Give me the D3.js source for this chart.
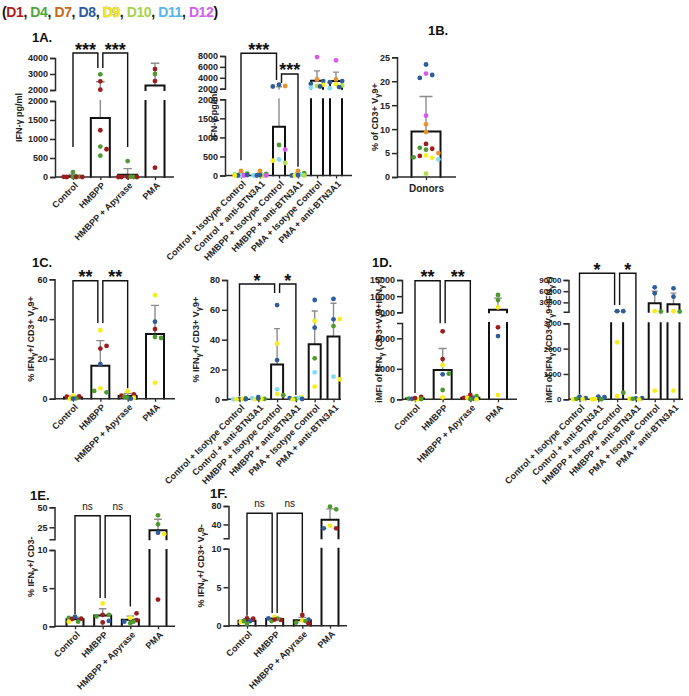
<!DOCTYPE html>
<html>
<head>
<meta charset="utf-8">
<script src="https://cdn.jsdelivr.net/npm/d3@7"></script>
<style>
  body { margin: 0; background: #fff; }
  svg text { font-family: "Liberation Sans", Arial, Helvetica, sans-serif; }
</style>
</head>
<body>
<svg id="fig" width="689" height="696"></svg>
<script>
// donors
const D1 = 0, D4 = 1, D7 = 2, D8 = 3, D9 = 4, D10 = 5, D11 = 6, D12 = 7;
const donorNames = ['D1', 'D4', 'D7', 'D8', 'D9', 'D10', 'D11', 'D12'];
const donorColors = ['#9e1c1c', '#4f9a30', '#e8922c', '#2f5d9c', '#f7ee1c', '#b2e04a', '#7fdcf4', '#dd55f0'];
const legendColors = ['#b01d1d', '#4fa63a', '#c8661e', '#2e5b9e', '#f3e81a', '#a6d44c', '#56b4ee', '#cf62ec'];

const cats4 = ['Control', 'HMBPP', 'HMBPP + Apyrase', 'PMA'];
const cats6 = ['Control + Isotype Control', 'Control + anti-BTN3A1', 'HMBPP + Isotype Control',
  'HMBPP + anti-BTN3A1', 'PMA + Isotype Control', 'PMA + anti-BTN3A1'];
const catsDonors = ['Donors'];

// [donor, value] per group
const ifnPgml4 = [
  [[D4, 0], [D4, 130], [D4, 10], [D1, 0], [D1, 0], [D1, 5], [D1, 0]],
  [[D4, 2980], [D1, 2540], [D1, 2020], [D1, 1230], [D4, 800], [D1, 730], [D4, 560]],
  [[D4, 420], [D1, 0], [D4, 0], [D1, 0], [D1, 0], [D1, 0], [D4, 10]],
  [[D1, 3310], [D4, 3000], [D1, 2560], [D1, 245]]
];
const ifnPgml6 = [
  [[D7, 120], [D4, 50], [D10, 30], [D11, 0], [D12, 0], [D8, 0], [D8, 10], [D9, 0]],
  [[D7, 120], [D4, 40], [D11, 0], [D9, 0], [D10, 0], [D8, 0], [D12, 0], [D8, 10]],
  [[D8, 2730], [D7, 2500], [D8, 2400], [D4, 800], [D12, 680], [D11, 420], [D10, 330], [D9, 390]],
  [[D7, 120], [D4, 60], [D8, 0], [D12, 0], [D11, 20], [D9, 0], [D10, 0], [D8, 10]],
  [[D12, 7800], [D7, 3700], [D8, 3400], [D8, 2900], [D10, 2500], [D9, 2700], [D11, 2200], [D8, 2400]],
  [[D12, 7200], [D7, 3700], [D8, 3400], [D8, 3200], [D9, 2800], [D10, 2600], [D11, 2100], [D8, 2300]]
];
const vg9Freq = [
  [[D8, 23.5], [D12, 21.6], [D8, 21.3], [D8, 20.7], [D12, 12.8], [D7, 11], [D7, 9.4], [D1, 6.9], [D4, 5.7],
   [D1, 5.9], [D4, 6.1], [D9, 4.5], [D9, 4.0], [D1, 4.4], [D7, 5.0], [D4, 4.1], [D11, 3.7], [D10, 0.7]]
];
const pctIfn4 = [
  [[D9, 1.4], [D1, 1.2], [D1, 1.0], [D4, 0.2], [D9, 0], [D8, 0]],
  [[D9, 34.4], [D1, 25.2], [D1, 26.5], [D8, 17.4], [D9, 5.2], [D4, 3.2], [D4, 3.9]],
  [[D9, 3.8], [D1, 2.2], [D1, 1.5], [D4, 0.5], [D9, 0.5], [D8, 0], [D4, 1.0]],
  [[D9, 52], [D8, 38.7], [D1, 35], [D4, 31], [D4, 30.5], [D9, 8]]
];
const pctIfn6 = [
  [[D8, 0.3], [D4, 0.6], [D11, 0], [D9, 0.2], [D9, 0], [D8, 0.1]],
  [[D8, 1.5], [D4, 0.3], [D11, 0.8], [D9, 0], [D9, 0.2], [D8, 0.5]],
  [[D8, 63.2], [D9, 37.5], [D8, 26.3], [D11, 6.7], [D9, 3.5], [D4, 2.7]],
  [[D4, 0.3], [D9, 1.5], [D8, 0.8], [D11, 1.0], [D9, 0], [D8, 0.2]],
  [[D8, 66.6], [D9, 52.5], [D8, 48], [D4, 27.5], [D11, 18.1], [D9, 8.5]],
  [[D8, 67.3], [D8, 53.6], [D9, 53.8], [D4, 49.1], [D11, 15.2], [D9, 13.4]]
];
const imfi4 = [
  [[D9, 0], [D1, 150], [D4, 50], [D9, 0], [D8, 30], [D1, 80], [D4, 20]],
  [[D1, 4460], [D1, 2640], [D9, 2250], [D8, 1640], [D4, 1680], [D4, 610], [D9, 130]],
  [[D1, 290], [D4, 200], [D1, 100], [D8, 50], [D9, 100], [D4, 0], [D9, 0]],
  [[D4, 10350], [D4, 8800], [D9, 6550], [D1, 4720], [D8, 4150], [D9, 280]]
];
const imfi6 = [
  [[D8, 100], [D8, 50], [D9, 0], [D9, 10], [D4, 20]],
  [[D8, 100], [D8, 80], [D9, 0], [D4, 0], [D9, 10]],
  [[D8, 6500], [D8, 6500], [D9, 2250], [D9, 130], [D4, 260]],
  [[D8, 40], [D8, 50], [D9, 30], [D9, 0], [D4, 20]],
  [[D8, 70400], [D8, 54300], [D9, 6500], [D4, 5300], [D9, 340]],
  [[D8, 67700], [D8, 45200], [D9, 6500], [D4, 5300], [D9, 340]]
];
const pctCd3neg = [
  [[D8, 1.26], [D1, 1.0], [D4, 1.1], [D1, 0.95], [D4, 0.6], [D9, 0.6]],
  [[D9, 3.0], [D1, 1.5], [D4, 1.5], [D4, 1.3], [D1, 0.5], [D8, 0.7]],
  [[D9, 1.1], [D1, 1.7], [D1, 0.8], [D4, 0.4], [D8, 0.6], [D4, 0.6]],
  [[D4, 40], [D4, 28.75], [D8, 18.25], [D9, 16.6], [D1, 3.5]]
];
const pctVg9neg = [
  [[D1, 0.96], [D1, 0.9], [D9, 0.48], [D8, 0.6], [D4, 0.6], [D4, 0.25]],
  [[D9, 1.15], [D1, 0.75], [D8, 0.95], [D4, 0.9], [D4, 0.6], [D1, 0.8]],
  [[D1, 1.39], [D8, 0.8], [D9, 0.7], [D4, 0.4], [D4, 0.6], [D1, 0.3]],
  [[D4, 78.5], [D4, 72.9], [D9, 37.3], [D1, 31.7], [D8, 31.7]]
];

// significance brackets: columns, label, bracket level and leg ends (axis units)
const sig1A = [{ a: 0, b: 1, label: '***', top: 4312, legA: 790, legB: 3375 },
               { a: 1, b: 2, label: '***', top: 4312, legA: 3375, legB: 790 }];
const sig1Ab = [{ a: 0, b: 2, label: '***', top: 8500, legA: 400, legB: 3600 },
                { a: 2, b: 3, label: '***', top: 4700, legA: 3050, legB: 230 }];
const sig1C = [{ a: 0, b: 1, label: '**', top: 59.3, legA: 2.9, legB: 38 },
               { a: 1, b: 2, label: '**', top: 59.3, legA: 38, legB: 5.3 }];
const sig1Cb = [{ a: 0, b: 2, label: '*', top: 77.3, legA: 2.2, legB: 71.3 },
                { a: 2, b: 3, label: '*', top: 77.3, legA: 71.3, legB: 2.9 }];
const sig1D = [{ a: 0, b: 1, label: '**', top: 14780, legA: 413, legB: 4990 },
               { a: 1, b: 2, label: '**', top: 14780, legA: 4990, legB: 413 }];
const sig1Db = [{ a: 0, b: 2, label: '*', top: 108000, legA: 210, legB: 23000 },
                { a: 2, b: 3, label: '*', top: 108000, legA: 23000, legB: 210 }];
const sig1E = [{ a: 0, b: 1, label: 'ns', top: 39.5, legA: 1.6, legB: 3.7 },
               { a: 1, b: 2, label: 'ns', top: 39.5, legA: 3.7, legB: 2.6 }];
const sig1F = [{ a: 0, b: 1, label: 'ns', top: 64.2, legA: 1.3, legB: 1.65 },
               { a: 1, b: 2, label: 'ns', top: 64.2, legA: 1.65, legB: 1.7 }];

const svg = d3.select('#fig');
const R = 2.4;

// legend line at the top
const leg = svg.append('text').attr('x', 2).attr('y', 17).attr('letter-spacing', -0.4)
  .attr('font-size', 14).attr('font-weight', 'bold').attr('fill', '#111');
leg.append('tspan').text('(');
donorNames.forEach((n, i) => {
  const t = leg.append('tspan').attr('fill', legendColors[i]).text(n);
  if (n === 'D9') t.attr('stroke', '#8a8a50').attr('stroke-width', 0.5).attr('paint-order', 'stroke');
  leg.append('tspan').attr('fill', '#111').text(i < donorNames.length - 1 ? ', ' : ')');
});

function addLabel(sel, str) {
  let shifted = false;
  str.split(/(_γ)/).forEach(p => {
    if (!p) return;
    if (p === '_γ') {
      sel.append('tspan').attr('font-size', 7.5).attr('dy', shifted ? 0 : 1.5).text('γ');
      shifted = true;
    } else {
      sel.append('tspan').attr('dy', shifted ? -1.5 : 0).text(p);
      shifted = false;
    }
  });
}

// spread points of similar height sideways, like a column scatter
function swarm(ys, maxOff) {
  const placed = [];
  const step = 3.1, gapX = 6, gapY = 4.6;
  return ys.map(y => {
    let best = 0, bestScore = -1;
    for (let k = 0; k < 40; k++) {
      const off = (k % 2 ? 1 : -1) * Math.ceil(k / 2) * step;
      if (Math.abs(off) > maxOff) break;
      const hit = placed.some(p => Math.abs(p.x - off) < gapX && Math.abs(p.y - y) < gapY);
      if (!hit) { best = off; bestScore = 1e9; break; }
      const score = d3.min(placed, p => Math.hypot(p.x - off, p.y - y));
      if (score > bestScore) { bestScore = score; best = off; }
    }
    placed.push({ x: best, y });
    return best;
  });
}

let clipCount = 0;
function drawPanel(cfg) {
  const g = svg.append('g');
  const segs = cfg.segs.map(s => ({ ...s, y: d3.scaleLinear().domain(s.domain).range(s.range) }));
  const top = segs[segs.length - 1];
  const yOf = v => {
    for (const s of segs) if (v >= s.domain[0] && v <= s.domain[1]) return s.y(v);
    if (v > top.domain[1]) return top.y(v);
    if (v < segs[0].domain[0]) return segs[0].y(v);
    const above = segs.find(s => s.domain[0] > v);
    return above.y(above.domain[0]);
  };
  const x = d3.scalePoint().domain(cfg.cats).range(cfg.catRange);
  const base = segs[0].range[0];
  const bw = cfg.bw, cap = Math.max(6, bw * 0.45);
  const tickFont = cfg.tickFont || 9;

  const stats = cfg.groups.map(pts => {
    const vals = pts.map(p => p[1]);
    return { mean: d3.mean(vals), sd: vals.length > 1 ? d3.deviation(vals) : 0 };
  });

  segs.forEach(s => {
    s.clip = 'clip' + (clipCount++);
    g.append('clipPath').attr('id', s.clip).append('rect')
      .attr('x', cfg.axisX + 1).attr('width', cfg.axisEnd - cfg.axisX)
      .attr('y', s.range[1] - 1).attr('height', s.range[0] - s.range[1] + 2);
  });

  // bars and error bars, drawn once per axis segment
  cfg.cats.forEach((c, i) => {
    const cx = x(c), st = stats[i];
    segs.forEach((s, k) => {
      const sg = g.append('g').attr('clip-path', `url(#${s.clip})`);
      if (k === 0 || st.mean + st.sd > s.domain[0]) {
        const yt = s.y(st.mean + st.sd);
        sg.append('path')
          .attr('d', `M${cx},${s.y(st.mean)}V${yt}M${cx - cap / 2},${yt}H${cx + cap / 2}`)
          .attr('fill', 'none').attr('stroke', '#8c8c8c').attr('stroke-width', 1.4);
      }
      if (k === 0 || st.mean > s.domain[0]) {
        sg.append('path')
          .attr('d', `M${cx - bw / 2},${s.y(0) + 1}V${s.y(st.mean)}H${cx + bw / 2}V${s.y(0) + 1}`)
          .attr('fill', 'none').attr('stroke', '#111').attr('stroke-width', 2);
      }
    });
  });

  // y axis, one per segment
  segs.forEach(s => {
    const ax = g.append('g').attr('transform', `translate(${cfg.axisX},0)`)
      .call(d3.axisLeft(s.y).tickValues(s.ticks).tickSize(5).tickSizeOuter(5).tickFormat(d3.format('d')));
    ax.attr('font-family', null).attr('font-size', null);
    ax.selectAll('path,line').attr('stroke', '#2a2a2a').attr('stroke-width', 1.5);
    ax.selectAll('text').attr('font-size', tickFont).attr('font-weight', 'bold').attr('fill', '#222').attr('x', -7);
  });

  // x axis
  g.append('line').attr('x1', cfg.axisX).attr('x2', cfg.axisEnd).attr('y1', base).attr('y2', base)
    .attr('stroke', '#2a2a2a').attr('stroke-width', 1.5);
  const xa = g.append('g').attr('transform', `translate(0,${base})`)
    .call(d3.axisBottom(x).tickSize(3).tickSizeOuter(0));
  xa.attr('font-family', null).attr('font-size', null);
  xa.select('.domain').remove();
  xa.selectAll('line').attr('stroke', '#2a2a2a').attr('stroke-width', 1.3);
  xa.selectAll('text')
    .attr('x', 0).attr('y', 0).attr('dy', 0)
    .attr('transform', cfg.cats.length > 1 ? 'translate(5,9) rotate(-45)' : 'translate(0,15)')
    .attr('text-anchor', cfg.cats.length > 1 ? 'end' : 'middle')
    .attr('font-size', cfg.cats.length > 1 ? 9 : 10).attr('font-weight', 'bold').attr('fill', '#222');

  // points
  cfg.cats.forEach((c, i) => {
    const pts = cfg.groups[i];
    const ys = pts.map(p => yOf(p[1]));
    const offs = swarm(ys, Math.max(6.2, bw * 0.5));
    g.selectAll(null).data(pts).join('circle')
      .attr('cx', (d, j) => x(c) + offs[j]).attr('cy', (d, j) => ys[j])
      .attr('r', R).attr('fill', d => donorColors[d[0]]);
  });

  // significance brackets
  (cfg.sig || []).forEach(b => {
    const shareA = cfg.sig.some(o => o !== b && o.b === b.a);
    const shareB = cfg.sig.some(o => o !== b && o.a === b.b);
    const x1 = x(cfg.cats[b.a]) + (shareA ? 2.5 : 0);
    const x2 = x(cfg.cats[b.b]) - (shareB ? 2.5 : 0);
    const yt = yOf(b.top);
    g.append('path').attr('d', `M${x1},${yOf(b.legA)}V${yt}H${x2}V${yOf(b.legB)}`)
      .attr('fill', 'none').attr('stroke', '#111').attr('stroke-width', 1.4);
    const ns = b.label === 'ns';
    g.append('text').attr('x', (x1 + x2) / 2).attr('y', ns ? yt - 6 : yt + 2.5)
      .attr('text-anchor', 'middle').attr('font-size', ns ? 10 : 18)
      .attr('font-weight', ns ? 'normal' : 'bold').attr('fill', '#111').text(b.label);
  });

  // y title
  const ymid = (base + top.range[1]) / 2;
  const yl = g.append('text').attr('transform', `translate(${cfg.ylabelX + 3},${ymid}) rotate(-90)`)
    .attr('text-anchor', 'middle').attr('font-size', 9).attr('font-weight', 'bold').attr('fill', '#222');
  addLabel(yl, cfg.ylabel);

  if (cfg.title) {
    g.append('text').attr('x', cfg.title[1]).attr('y', cfg.title[2])
      .attr('font-size', 13).attr('font-weight', 'bold').attr('fill', '#111').text(cfg.title[0]);
  }
}

drawPanel({
  title: ['1A.', 32, 42], ylabel: 'IFN-γ pg/ml', ylabelX: 19,
  axisX: 55, axisEnd: 174, catRange: [73, 155], bw: 19, cats: cats4, groups: ifnPgml4, sig: sig1A,
  segs: [{ domain: [0, 2000], range: [177, 101], ticks: [0, 500, 1000, 1500, 2000] },
         { domain: [2000, 4000], range: [90, 58], ticks: [2000, 3000, 4000] }]
});
drawPanel({
  ylabel: 'IFN-γ pg/ml', ylabelX: 214,
  axisX: 225, axisEnd: 352, catRange: [241, 336], bw: 12, cats: cats6, groups: ifnPgml6, sig: sig1Ab,
  segs: [{ domain: [0, 2000], range: [175.5, 99.3], ticks: [0, 500, 1000, 1500, 2000] },
         { domain: [2000, 8000], range: [88.7, 56], ticks: [2000, 4000, 6000, 8000] }]
});
drawPanel({
  title: ['1B.', 428, 35], ylabel: '% of CD3+ V_γ9+', ylabelX: 375,
  axisX: 397, axisEnd: 456, catRange: [426, 426], bw: 29, cats: catsDonors, groups: vg9Freq,
  segs: [{ domain: [0, 25], range: [177, 57.3], ticks: [0, 5, 10, 15, 20, 25] }]
});
drawPanel({
  title: ['1C.', 32, 267], ylabel: '% IFN_γ+/ CD3+ V_γ9+', ylabelX: 31,
  axisX: 54.5, axisEnd: 175, catRange: [73, 155], bw: 18, cats: cats4, groups: pctIfn4, sig: sig1C,
  segs: [{ domain: [0, 60], range: [398.7, 279.3], ticks: [0, 20, 40, 60] }]
});
drawPanel({
  ylabel: '% IFN_γ+/ CD3+ V_γ9+', ylabelX: 196,
  axisX: 227, axisEnd: 341, catRange: [239.5, 333.5], bw: 12, cats: cats6, groups: pctIfn6, sig: sig1Cb,
  segs: [{ domain: [0, 80], range: [399.3, 280], ticks: [0, 20, 40, 60, 80] }]
});
drawPanel({
  title: ['1D.', 372, 267], ylabel: 'iMFI of IFN_γ (CD3+V_γ9+IFN_γ+)', ylabelX: 379,
  axisX: 402, axisEnd: 517, catRange: [415, 498], bw: 18, cats: cats4, groups: imfi4, sig: sig1D,
  segs: [{ domain: [0, 5000], range: [399.3, 323.1], ticks: [0, 2000, 4000] },
         { domain: [5000, 15000], range: [312.3, 280], ticks: [5000, 10000, 15000] }]
});
drawPanel({
  ylabel: 'iMFI of IFN_γ (CD3+V_γ9+IFN_γ+)', ylabelX: 549, tickFont: 8,
  axisX: 568.5, axisEnd: 683, catRange: [579.5, 673.5], bw: 12, cats: cats6, groups: imfi6, sig: sig1Db,
  segs: [{ domain: [0, 3000], range: [399.3, 323.3], ticks: [0, 1000, 2000, 3000] },
         { domain: [5000, 90000], range: [311.7, 280], ticks: [30000, 60000, 90000] }]
});
drawPanel({
  title: ['1E.', 30, 500], ylabel: '% IFN_γ+/ CD3-', ylabelX: 31,
  axisX: 54.5, axisEnd: 175, catRange: [75, 158], bw: 17, cats: cats4, groups: pctCd3neg, sig: sig1E,
  segs: [{ domain: [0, 10], range: [626.3, 550], ticks: [0, 5, 10] },
         { domain: [10, 50], range: [539.3, 507.3], ticks: [25, 50] }]
});
drawPanel({
  title: ['1F.', 210, 498], ylabel: '% IFN_γ+/ CD3+ V_γ9-', ylabelX: 201,
  axisX: 228.5, axisEnd: 347, catRange: [247, 330], bw: 17, cats: cats4, groups: pctVg9neg, sig: sig1F,
  segs: [{ domain: [0, 10], range: [625.7, 548.7], ticks: [0, 5, 10] },
         { domain: [10, 80], range: [538.3, 506], ticks: [40, 80] }]
});
</script>
</body>
</html>
